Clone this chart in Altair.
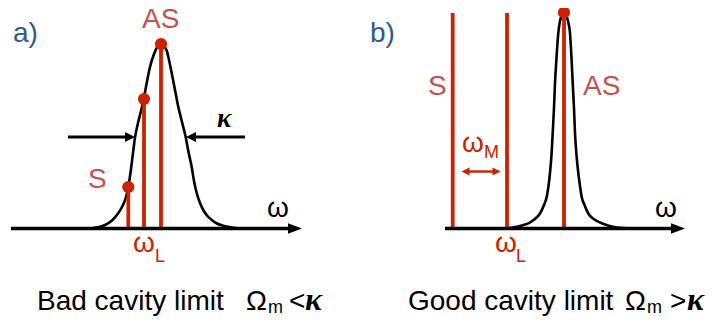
import altair as alt
import pandas as pd

# ---------------- data (figure coordinates) ----------------
# cavity response, panel a (bad cavity: broad)
curve_a_x = [93, 98, 105, 112, 118, 123, 126, 128.3, 131, 133, 135, 138, 141, 143.7, 146.7, 150, 154, 157.5,
             160.7, 163.5, 166.7, 169, 171.7, 175, 178.3, 182, 185.7, 188.5, 191.7, 194, 196.7, 200, 203.3,
             207, 211.7, 217, 223.3, 229, 236]
curve_a_y = [228, 227.3, 225, 220.5, 213.5, 205, 197, 187, 169, 153, 137.5, 123, 111, 99, 83, 67, 54, 46.5,
             43.5, 45.5, 50.5, 60, 73, 90, 107, 122, 137, 152, 167, 181, 193, 203, 210,
             215.5, 220, 223.5, 225.8, 227, 228]
# cavity response, panel b (good cavity: narrow)
curve_b_x = [505, 513, 522, 530, 536, 540, 544, 546.7, 548.5, 550, 551.5, 552.7, 554, 555, 556.5, 558.3, 560,
             562, 564, 566, 568, 570, 571.5, 572.7, 574, 575, 576.5, 578.3, 580, 581.7, 584.5, 588.3, 593,
             600, 608, 617, 633]
curve_b_y = [228.3, 227.5, 225.5, 222.5, 218, 213.5, 205, 197, 186, 173, 155, 133, 108, 83, 58, 33, 21,
             15, 13, 15, 21, 33, 58, 83, 108, 133, 155, 173, 186, 197, 205, 213.5, 218.5,
             222.5, 225.5, 227.5, 228.3]

baseline_y = 228.5
# sideband / laser lines: S, L, AS (panel a) and S, L, AS (panel b)
stick_x = [128.3, 144, 161, 452.7, 507, 564]
stick_top = [187, 99, 44, 13, 13, 13]
dot_x = [128.3, 144, 161, 564]
dot_y = [187, 99, 44, 12.5]

# frequency axes
axis_x1 = [11, 445]
axis_x2 = [292, 675]
axis_tip = [302, 685]

# kappa arrows (panel a) and omega_M double arrow (panel b)
kappa_arrow_x1 = [68, 245]
kappa_arrow_x2 = [128, 193]
kappa_arrow_y = 137
kappa_tip_right = [135]
kappa_tip_left = [186]
wm_arrow_x1, wm_arrow_x2, wm_arrow_y = 467, 495, 171.5
wm_tip_right = [500.5]
wm_tip_left = [461.5]

# labels
panel_labels = ["a)", "b)"]
panel_x = [13, 370]
panel_y = [42, 42]
band_labels = ["AS", "S", "S", "AS"]
band_x = [142, 88, 428, 583]
band_y = [28, 188, 95, 95]
omega_red_x = [133, 495, 462]
omega_red_y = [252, 252, 152]
sub_red = ["L", "L", "M"]
sub_red_x = [155, 516, 484]
sub_red_y = [262, 262, 158]
omega_black_x = [267, 655]
omega_black_y = [217, 217]
bottom_text = ["Bad cavity limit", "Good cavity limit", "Ω", "Ω", "<", ">"]
bottom_x = [37, 408, 246, 625, 289, 670]
bottom_y = [310, 310, 310, 310, 310, 310]
sub_m_x = [268, 647]
sub_m_y = [312.5, 312.5]
kappa_small_x, kappa_small_y = [217], [127]
kappa_big_x, kappa_big_y = [305, 687], [310]

RED = "#cc2200"
LRED = "#c8504f"
BLUE = "#2e5a94"
SANS = "Liberation Sans"
SERIF = "Liberation Serif"

X = alt.X("x:Q", scale=alt.Scale(domain=[8, 714], nice=False, zero=False), axis=None)
Y = alt.Y("y:Q", scale=alt.Scale(domain=[8, 317], nice=False, zero=False, reverse=True), axis=None)


def pts(xs, ys):
    if not isinstance(ys, list):
        ys = [ys] * len(xs)
    return pd.DataFrame({"x": xs, "y": ys})


layers = []

# curves
for cx, cy in [(curve_a_x, curve_a_y), (curve_b_x, curve_b_y)]:
    layers.append(alt.Chart(pts(cx, cy)).mark_line(color="black", strokeWidth=2.6, interpolate="monotone")
                  .encode(x=X, y=Y, order="x:Q"))

# red lines
sticks = pd.DataFrame({"x": stick_x, "y": stick_top, "y2": [baseline_y] * len(stick_x)})
layers.append(alt.Chart(sticks).mark_rule(color=RED, strokeWidth=3.8).encode(x=X, y=Y, y2="y2:Q"))
layers.append(alt.Chart(pts(dot_x, dot_y)).mark_circle(color=RED, opacity=1, size=150).encode(x=X, y=Y))

# axes
axes = pd.DataFrame({"x": axis_x1, "x2": axis_x2, "y": [baseline_y] * 2})
layers.append(alt.Chart(axes).mark_rule(color="black", strokeWidth=3.6).encode(x=X, x2="x2:Q", y=Y))
layers.append(alt.Chart(pts([t - 7 for t in axis_tip], baseline_y))
              .mark_point(shape="M1,0L-1,-0.75L-1,0.75Z", size=196, filled=True, color="black", opacity=1,
                          strokeWidth=0)
              .encode(x=X, y=Y))

# kappa arrows
ka = pd.DataFrame({"x": kappa_arrow_x1, "x2": kappa_arrow_x2, "y": [kappa_arrow_y] * 2})
layers.append(alt.Chart(ka).mark_rule(color="black", strokeWidth=3).encode(x=X, x2="x2:Q", y=Y))
layers.append(alt.Chart(pts([t - 5 for t in kappa_tip_right], kappa_arrow_y))
              .mark_point(shape="M1,0L-1,-1L-1,1Z", size=100, filled=True, color="black", opacity=1, strokeWidth=0)
              .encode(x=X, y=Y))
layers.append(alt.Chart(pts([t + 5 for t in kappa_tip_left], kappa_arrow_y))
              .mark_point(shape="M-1,0L1,-1L1,1Z", size=100, filled=True, color="black", opacity=1, strokeWidth=0)
              .encode(x=X, y=Y))

# omega_M double arrow
wa = pd.DataFrame({"x": [wm_arrow_x1], "x2": [wm_arrow_x2], "y": [wm_arrow_y]})
layers.append(alt.Chart(wa).mark_rule(color=RED, strokeWidth=2.4).encode(x=X, x2="x2:Q", y=Y))
layers.append(alt.Chart(pts([t - 4 for t in wm_tip_right], wm_arrow_y))
              .mark_point(shape="M1,0L-1,-1L-1,1Z", size=64, filled=True, color=RED, opacity=1, strokeWidth=0)
              .encode(x=X, y=Y))
layers.append(alt.Chart(pts([t + 4 for t in wm_tip_left], wm_arrow_y))
              .mark_point(shape="M-1,0L1,-1L1,1Z", size=64, filled=True, color=RED, opacity=1, strokeWidth=0)
              .encode(x=X, y=Y))


def txt(texts, xs, ys, color, size, font=SANS, **kw):
    if not isinstance(ys, list):
        ys = [ys] * len(xs)
    if len(ys) == 1 and len(xs) > 1:
        ys = ys * len(xs)
    df = pd.DataFrame({"t": texts, "x": xs, "y": ys})
    return (alt.Chart(df).mark_text(align="left", baseline="alphabetic", color=color, fontSize=size,
                                    font=font, **kw)
            .encode(x=X, y=Y, text="t:N"))


layers.append(txt(panel_labels, panel_x, panel_y, BLUE, 28))
layers.append(txt(band_labels, band_x, band_y, LRED, 28))
layers.append(txt(["ω"] * 3, omega_red_x, omega_red_y, RED, 28))
layers.append(txt(sub_red, sub_red_x, sub_red_y, RED, 18))
layers.append(txt(["ω"] * 2, omega_black_x, omega_black_y, "black", 28))
layers.append(txt(bottom_text, bottom_x, bottom_y, "black", 28))
layers.append(txt(["m", "m"], sub_m_x, sub_m_y, "black", 18))
layers.append(txt(["κ"], kappa_small_x, kappa_small_y, "black", 27, font=SERIF, fontStyle="italic",
                  fontWeight="bold"))
layers.append(txt(["κ", "κ"], kappa_big_x, kappa_big_y, "black", 32, font=SERIF, fontStyle="italic",
                  fontWeight="bold"))

chart = (alt.layer(*layers)
         .properties(width=706, height=309, padding=0, autosize="none", background="white")
         .configure_view(strokeWidth=0))

chart.save("out.html", embed_options={"renderer": "svg", "actions": False})
